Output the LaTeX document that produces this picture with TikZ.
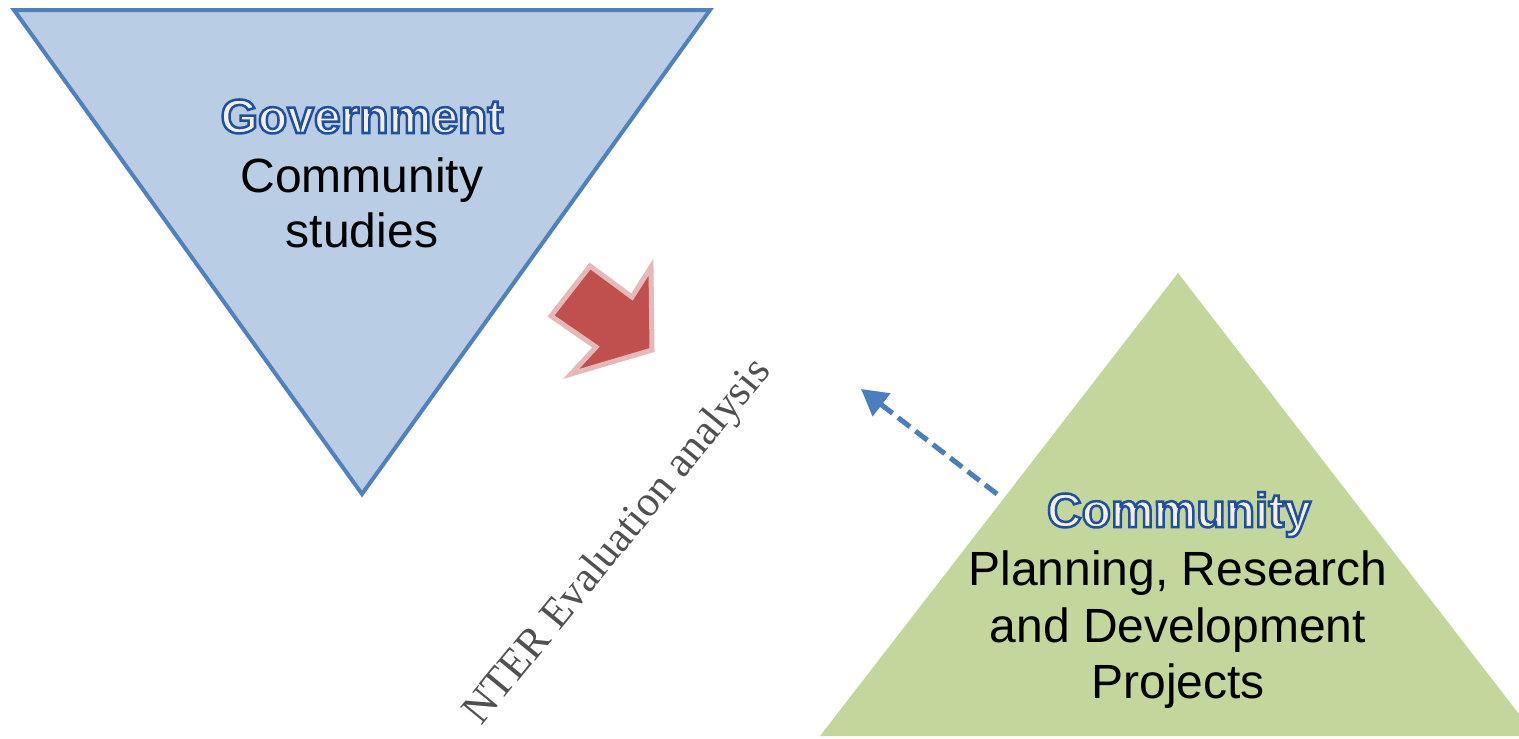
\documentclass[tikz,border=0pt]{standalone}
\usepackage{fontspec}
\setmainfont{Liberation Sans}
\newfontfamily\serifrot{Liberation Serif}
\usetikzlibrary{arrows.meta}
\definecolor{govfill}{HTML}{B9CDE5}
\definecolor{govline}{HTML}{4F81BD}
\definecolor{comfill}{HTML}{C3D69B}
\definecolor{redfill}{HTML}{C0504D}
\definecolor{redline}{HTML}{E6B9B8}
\definecolor{outblue}{HTML}{1F4FA0}
\definecolor{cream}{HTML}{F4F0E2}
\definecolor{dashblue}{HTML}{4A7EBF}
\definecolor{rotgray}{HTML}{505050}
\tikzset{
  plain/.style={font=\fontsize{48}{57}\selectfont, text=black, anchor=base, inner sep=0pt},
  head/.style={font=\fontsize{48}{57}\selectfont\bfseries, anchor=base, inner sep=0pt},
}
\newcommand{\outl}[1]{\special{pdf:literal direct 2 Tr 2.5 w 0.122 0.31 0.627 RG 0.957 0.941 0.886 rg}#1\special{pdf:literal direct 0 Tr}}
\begin{document}
\begin{tikzpicture}[x=1pt,y=-1pt]
\useasboundingbox (0,0) rectangle (1519,739);
% government triangle
\draw[govline, line width=4pt, fill=govfill, line join=miter] (14,10) -- (710,10) -- (362,494) -- cycle;
% community triangle
\begin{scope}
\clip (0,0) rectangle (1519,739);
\fill[comfill] (1178,273) -- (1536,736) -- (820,736) -- cycle;
\end{scope}
% red block arrow
\draw[redline, line width=5pt, fill=redfill, line join=miter]
  (590,266) -- (632,297) -- (651,267) -- (652,350) -- (571,374) -- (596,347) -- (551,316) -- cycle;
% texts
\node[head, text=cream] (g1) at (362,133) {\outl{Government}};
\node[plain] (g2) at (362,192) {Community};
\node[plain] (g3) at (362,247) {studies};
\node[head, text=cream] (c1) at (1179,527) {\outl{Community}};
\node[plain] (c2) at (1178,585) {Planning, Research};
\node[plain] (c3) at (1178,642) {and Development};
\node[plain] (c4) at (1178,698) {Projects};
% rotated label
\node[font=\serifrot\fontsize{43}{50}\selectfont, text=rotgray, anchor=base west, inner sep=0pt, rotate=50.7] (lab) at (481,727) {NTER Evaluation analysis};
% dashed arrow
\coordinate (dtail) at (997,494);
\coordinate (dtip) at (861,389);
\draw[dashblue, line width=5pt, dash pattern=on 15pt off 7pt, -{Triangle[length=26pt,width=28pt]}] (dtail) -- (dtip);
\end{tikzpicture}
\end{document}
